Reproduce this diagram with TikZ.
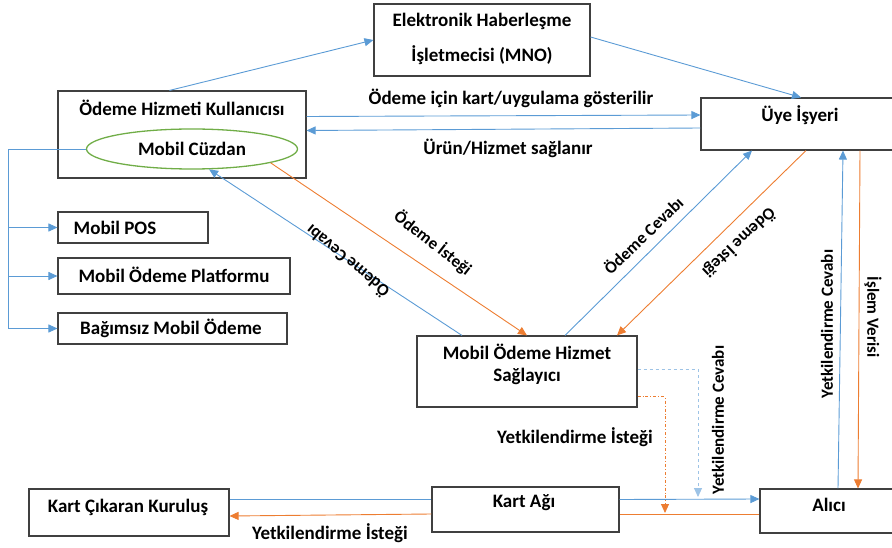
\documentclass[tikz,border=0pt]{standalone}
\usepackage{fontspec}
\setmainfont{Carlito}
\usetikzlibrary{arrows.meta,shapes.geometric}

\begin{document}
\begin{tikzpicture}[x=1pt,y=-1pt]

    % Colors: office blue / orange / green
    \definecolor{lineBlue}{HTML}{5B9BD5}
    \definecolor{lineOrange}{HTML}{ED7D31}
    \definecolor{lineLight}{HTML}{9DC3E6}
    \definecolor{walletGreen}{HTML}{70AD47}

    % Canvas = 892 x 548 (1 unit = 1pt, y grows downwards)
    \useasboundingbox (0,0) rectangle (892,548);

    % Box, text and connector styles
    \tikzset{
        pbox/.style={draw=black!75, line width=1.1pt, inner sep=0pt},
        ptext/.style={font=\fontsize{19}{22}\selectfont\bfseries, inner sep=1pt, align=center},
        dtext/.style={ptext, font=\fontsize{17}{20}\selectfont\bfseries},
        vtext/.style={ptext, font=\fontsize{17}{20}\selectfont\bfseries},
        flowBlue/.style={draw=lineBlue, line width=0.9pt, -{Triangle[length=9pt,width=8pt]}},
        flowOrange/.style={draw=lineOrange, line width=0.9pt, -{Triangle[length=9pt,width=8pt]}},
        flowLight/.style={draw=lineLight, line width=0.9pt, -{Triangle[length=9pt,width=8pt]}},
        plainBlue/.style={draw=lineBlue, line width=0.9pt},
        plainOrange/.style={draw=lineOrange, line width=0.9pt}
    }

    % --- Top: MNO ---
    \node[pbox, minimum width=216, minimum height=72] (mno) at (482,40) {};
    \node[ptext] (mnoA) at (482,21) {Elektronik Haberleşme};
    \node[ptext] (mnoB) at (482,55) {İşletmecisi (MNO)};

    % --- Left: user + wallet ---
    \node[pbox, minimum width=248, minimum height=87] (kul) at (182,134.5) {};
    \node[ptext] (kulText) at (182,108) {Ödeme Hizmeti Kullanıcısı};
    \node[ptext, ellipse, draw=walletGreen, line width=1.3pt,
          minimum width=211, minimum height=40] (cuzdan) at (192,149) {Mobil Cüzdan};

    \node[pbox, minimum width=150, minimum height=31] (pos) at (133,227.5) {};
    \node[ptext] (posText) at (115,228) {Mobil POS};
    \node[pbox, minimum width=232, minimum height=36] (plat) at (174,276) {};
    \node[ptext] (platText) at (174,275) {Mobil Ödeme Platformu};
    \node[pbox, minimum width=229, minimum height=31] (bag) at (172.5,328.5) {};
    \node[ptext] (bagText) at (171,328) {Bağımsız Mobil Ödeme};

    % --- Right: merchant ---
    \node[pbox, minimum width=200, minimum height=52] (ue) at (801,124) {};
    \node[ptext] (ueText) at (800,115) {Üye İşyeri};

    % --- Middle: provider ---
    \node[pbox, minimum width=220, minimum height=71] (mohs) at (527,371.5) {};
    \node[ptext] (mohsText) at (527,364) {Mobil Ödeme Hizmet\\Sağlayıcı};

    % --- Bottom row ---
    \node[pbox, minimum width=200, minimum height=47] (kck) at (129,512.5) {};
    \node[ptext] (kckText) at (128,507) {Kart Çıkaran Kuruluş};
    \node[pbox, minimum width=187, minimum height=45] (kartag) at (525.5,509.5) {};
    \node[ptext] (kartagText) at (524,503) {Kart Ağı};
    \node[pbox, minimum width=140, minimum height=44] (alici) at (830,511) {};
    \node[ptext] (aliciText) at (829,505) {Alıcı};

    % --- Connectors: top ---
    \draw[flowBlue] ([xshift=112]kul.north west) -- (mno.west);
    \draw[flowBlue] ([yshift=3]mno.east) -- (ue.north);
    \draw[flowBlue] ([yshift=18]kul.east) -- ([yshift=9]ue.west);
    \draw[flowBlue] ([yshift=-4]ue.west) -- ([yshift=4]kul.east);

    % --- Connectors: diagonals ---
    \draw[flowOrange] (cuzdan.-10) -- (mohs.north);
    \draw[flowBlue] ([xshift=-65]mohs.north) -- (cuzdan.-50);
    \draw[flowBlue] ([xshift=38]mohs.north) -- ([xshift=-49]ue.south);
    \draw[flowOrange] ([xshift=5]ue.south) -- ([xshift=90]mohs.north);
    \draw[flowBlue] ([xshift=8]alici.north) -- ([xshift=42]ue.south);
    \draw[flowOrange] ([xshift=59]ue.south) -- ([xshift=28]alici.north);

    % --- Connectors: provider to card network ---
    \coordinate (cevapEnd) at (698,497);
    \coordinate (istekEnd) at (665,513);
    \draw[flowLight, dashed] ([yshift=2]mohs.east) -| (cevapEnd);
    \draw[flowOrange, dash dot] ([yshift=-25]mohs.east) -| (istekEnd);

    % --- Connectors: bottom row ---
    \draw[plainBlue] ([yshift=13]kck.east) -- ([yshift=10]kartag.west);
    \draw[flowBlue] ([yshift=10]kartag.east) -- ([yshift=12]alici.west);
    \draw[plainOrange] ([yshift=-3]alici.west) -- ([yshift=-4.5]kartag.east);
    \draw[flowOrange] ([yshift=-4.5]kartag.west) -- ([yshift=-3.5]kck.east);

    % --- Connectors: wallet fork ---
    \coordinate (fork) at (8,149);
    \draw[plainBlue] (cuzdan.west) -- (fork) -- (fork |- bag.west);
    \foreach \t in {pos,plat,bag}
        \draw[flowBlue] (fork |- \t.west) -- (\t.west);

    % --- Labels ---
    \node[ptext] (lblGoster) at (511,98) {Ödeme için kart/uygulama gösterilir};
    \node[ptext] (lblUrun) at (508,148) {Ürün/Hizmet sağlanır};
    \node[dtext, rotate=-37.8] (lblIstekL) at (433,243) {Ödeme İsteği};
    \node[dtext, rotate=140.5] (lblCevapL) at (347,262) {Ödeme Cevabı};
    \node[dtext, rotate=44] (lblCevapR) at (643,235) {Ödeme Cevabı};
    \node[dtext, rotate=-136.6] (lblIstekR) at (739,243) {Ödeme İsteği};
    \node[vtext, rotate=90] (lblYCevapR) at (827,324) {Yetkilendirme Cevabı};
    \node[vtext, rotate=-90] (lblIslem) at (873,317) {İşlem Verisi};
    \node[vtext, rotate=90] (lblYCevapM) at (718,420) {Yetkilendirme Cevabı};
    \node[ptext] (lblYIstekM) at (575,437) {Yetkilendirme İsteği};
    \node[ptext] (lblYIstekB) at (330,533) {Yetkilendirme İsteği};

\end{tikzpicture}
\end{document}
